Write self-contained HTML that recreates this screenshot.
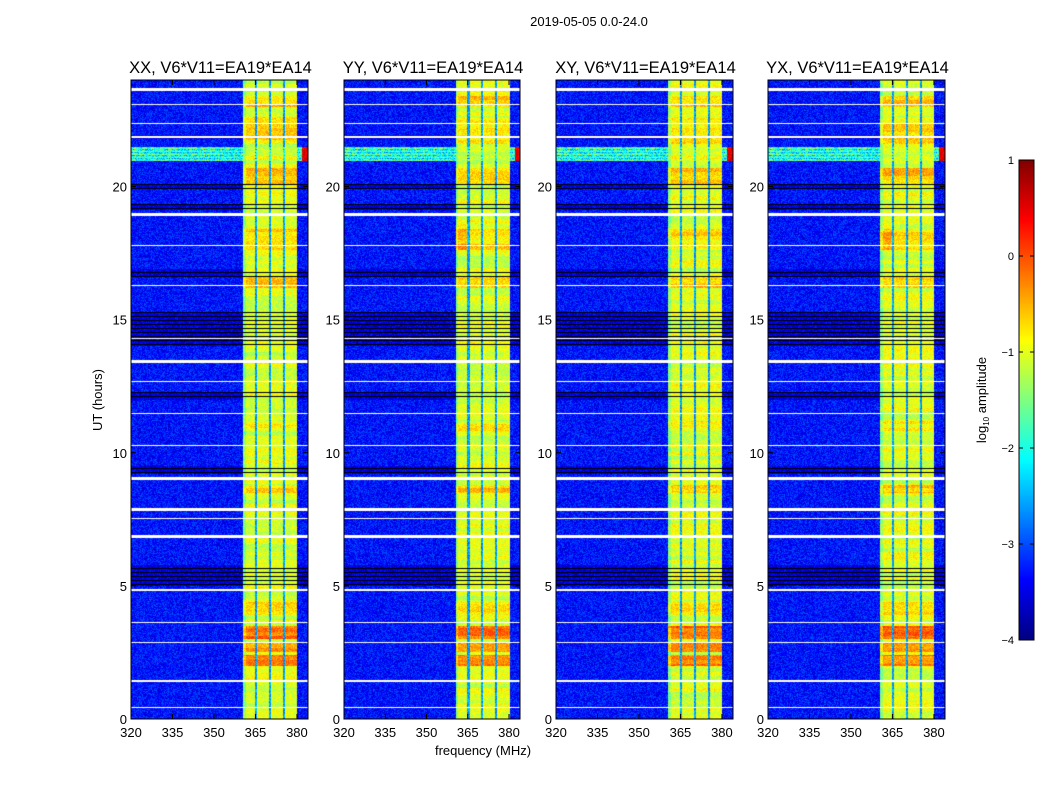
<!DOCTYPE html>
<html><head><meta charset="utf-8">
<style>
body{margin:0;background:#fff;width:1050px;height:800px;overflow:hidden;position:relative;font-family:"Liberation Sans",sans-serif;}
canvas{position:absolute;}
svg{position:absolute;left:0;top:0;}
svg text{font-family:"Liberation Sans",sans-serif;fill:#000;}
</style></head>
<body>
<div style="position:absolute;left:0;top:0;width:1050px;height:800px;">
<canvas id="c0" width="177" height="639" style="left:131px;top:80px"></canvas>
<canvas id="c1" width="176" height="639" style="left:344px;top:80px"></canvas>
<canvas id="c2" width="177" height="639" style="left:556px;top:80px"></canvas>
<canvas id="c3" width="177" height="639" style="left:768px;top:80px"></canvas>
<canvas id="cb" width="15" height="480" style="left:1019px;top:160px"></canvas>
<svg id="ov" width="1050" height="800"></svg>
</div>
<script>
const panelTitles=["XX, V6*V11=EA19*EA14","YY, V6*V11=EA19*EA14","XY, V6*V11=EA19*EA14","YX, V6*V11=EA19*EA14"];
const xTicks=[320,335,350,365,380];
const yTicks=[0,5,10,15,20];
const cbTicks=[1,0,-1,-2,-3,-4];
const bgLevel=-3.3;
const bandEdges=[360.6,380.2];
const bandLevel=-1.05;
const dipFreqs=[365.3,370.3,375.3];
const boostEvents=[[2.0,2.4,0.8],[2.5,2.85,0.7],[3.0,3.5,0.9],[3.9,4.4,0.3],[8.5,8.8,0.4],[10.8,11.2,0.2],[16.2,16.6,0.4],[17.6,18.4,0.3],[20.1,20.7,0.5],[21.6,22.6,0.3],[23.0,23.4,0.4]];
const whiteTimes=[0.45,1.46,2.89,3.64,4.87,6.86,7.55,7.9,9.04,10.3,11.5,12.7,13.46,14.3,16.3,17.8,18.97,21.9,22.4,23.1,23.66];
const whiteWidths=[1,2,1,1,2,3,1,3,3,1,1,1,3,1,1,1,3,2,1,1,3];
const darkRows=[[5.0,5.8],[9.2,9.5],[12.0,12.3],[14.0,15.3],[16.6,16.9],[19.1,19.35],[19.9,20.1],[21.8,21.95]];
const rfiRow=[20.95,21.5];

const panels=[{x:131,w:177},{x:344,w:176},{x:556,w:177},{x:768,w:177}];
const Y0=80,H=639,fMin=320,fMax=384,tMax=24;
function jet(v){const x=Math.max(0,Math.min(1,(v+4)/5));const c=a=>Math.round(255*Math.max(0,Math.min(1,1.5-Math.abs(4*x-a))));return [c(3),c(2),c(1)];}
function hash(a,b){let h=(a*374761393+b*668265263)|0;h=(h^(h>>>13))*1274126177|0;return ((h^(h>>>16))>>>0)/4294967296;}
function value(f,t,p,i,j){
  let v=bgLevel+(hash(i+p*1000,j)-0.5)*0.7;
  let dark=false;
  for(const d of darkRows) if(t>=d[0]&&t<d[1]) dark=true;
  if(dark && j%4===0) return -5;
  if(dark) v-=0.25;
  if(t>=rfiRow[0]&&t<rfiRow[1]){v=-2.0+(hash(i,j)-0.5)*1.2+((j%3)-1)*0.3; if(f>382) v=0.2+hash(j,i)*0.5;}
  if(f>=bandEdges[0]&&f<=bandEdges[1]){
    let b=bandLevel+(hash(j,i+p*77)-0.5)*0.5+(hash(j>>2,p)-0.5)*0.4;
    if(f<361.6) b-=0.4;
    for(const e of boostEvents) if(t>=e[0]&&t<e[1]) b+=e[2];
    for(const d of dipFreqs) if(Math.abs(f-d)<0.4) b=-2.6+(hash(i,j)-0.5)*0.6;
    if(p%2===1 && t>=17.6&&t<18.6 && f<365) b+=0.3;
    v=Math.max(v,b);
  }
  return v;
}
panels.forEach((P,p)=>{
  const ctx=document.getElementById('c'+p).getContext('2d');
  const img=ctx.createImageData(P.w,H);
  const wr=whiteTimes.map((t,k)=>[Math.round(H-t/tMax*H),whiteWidths[k]]);
  for(let j=0;j<H;j++){
    const t=(H-j-0.5)/H*tMax;
    const white=wr.some(w=>j>=w[0]-Math.floor((w[1]-1)/2)&&j<w[0]-Math.floor((w[1]-1)/2)+w[1]);
    for(let i=0;i<P.w;i++){
      const k=(j*P.w+i)*4;
      let c;
      if(white) c=[255,255,255];
      else {const v=value(fMin+(i+0.5)/P.w*(fMax-fMin),t,p,i,j); c=v<-4.5?[0,0,0]:jet(v);}
      img.data[k]=c[0];img.data[k+1]=c[1];img.data[k+2]=c[2];img.data[k+3]=255;
    }
  }
  ctx.putImageData(img,0,0);
});
(function(){const ctx=document.getElementById('cb').getContext('2d');
for(let j=0;j<480;j++){const c=jet(1-5*(j+0.5)/480);ctx.fillStyle=`rgb(${c})`;ctx.fillRect(0,j,15,1);}})();

const ns="http://www.w3.org/2000/svg";const ov=document.getElementById('ov');
function mk(tag,attrs,txt){const e=document.createElementNS(ns,tag);for(const k in attrs)e.setAttribute(k,attrs[k]);if(txt!==undefined)e.textContent=txt;ov.appendChild(e);return e;}
const xs=(P,f)=>P.x+(f-fMin)/(fMax-fMin)*P.w;
const ys=t=>Y0+H-t/tMax*H;
let e=mk('text',{x:589,y:26,'font-size':13,'text-anchor':'middle'},'2019-05-05 0.0-24.0');

panels.forEach((P,p)=>{
  let r=mk('rect',{x:P.x,y:Y0,width:P.w,height:H,fill:'none',stroke:'#000','stroke-width':1});
  
  let tt=mk('text',{x:P.x+P.w/2+1,y:73,'font-size':16.5,'text-anchor':'middle'},panelTitles[p]);
  
  xTicks.forEach(f=>{const x=xs(P,f);
    mk('line',{x1:x,x2:x,y1:Y0+H,y2:Y0+H-5,stroke:'#000'});mk('line',{x1:x,x2:x,y1:Y0,y2:Y0+5,stroke:'#000'});
    let l=mk('text',{x:x,y:737,'font-size':13,'text-anchor':'middle'},f);
    });
  yTicks.forEach(t=>{const y=ys(t);
    mk('line',{x1:P.x,x2:P.x+5,y1:y,y2:y,stroke:'#000'});mk('line',{x1:P.x+P.w,x2:P.x+P.w-5,y1:y,y2:y,stroke:'#000'});
    let l=mk('text',{x:P.x-4,y:y+5,'font-size':13,'text-anchor':'end'},t);
    });
});
e=mk('text',{x:483,y:755,'font-size':13,'text-anchor':'middle'},'frequency (MHz)');

e=mk('text',{x:102,y:400,'font-size':13,'text-anchor':'middle',transform:'rotate(-90 102 400)'},'UT (hours)');

e=mk('rect',{x:1019,y:160,width:15,height:480,fill:'none',stroke:'#000'});
cbTicks.forEach(v=>{const y=160+(1-v)/5*480;
  mk('line',{x1:1019,x2:1023,y1:y,y2:y,stroke:'#000'});mk('line',{x1:1030,x2:1034,y1:y,y2:y,stroke:'#000'});
  let l=mk('text',{x:1014,y:y+4,'font-size':11,'text-anchor':'end'},v<0?'\u2212'+(-v):v);
  });
e=mk('text',{x:0,y:0,'font-size':13,'text-anchor':'middle',transform:'translate(986 400) rotate(-90)'});
e.innerHTML='log<tspan font-size="8" dy="3">10</tspan><tspan dy="-3"> amplitude</tspan>';

</script>
</body></html>
